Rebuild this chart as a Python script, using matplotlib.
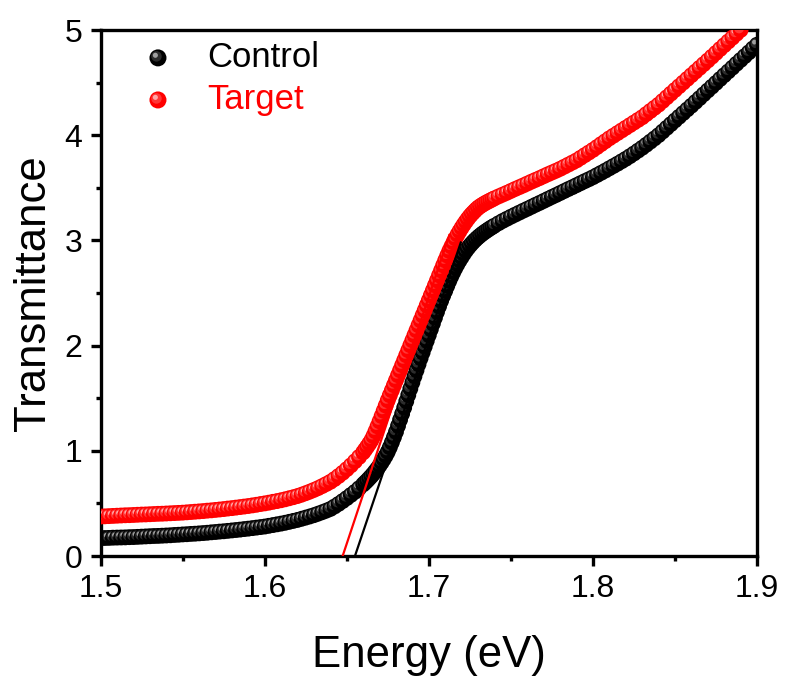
import matplotlib.pyplot as plt
import numpy as np
from matplotlib.ticker import MultipleLocator, FormatStrFormatter

plt.rcParams['font.family'] = ['Liberation Sans', 'DejaVu Sans']

# photon energy grid (eV): finer sampling across the absorption edge
energy = np.round(np.concatenate([
    1.50 + 0.0025 * np.arange(64),    # 1.5000 ... 1.6575
    1.66 + 0.00125 * np.arange(64),   # 1.6600 ... 1.73875
    1.74 + 0.0025 * np.arange(65),    # 1.7400 ... 1.9000
]), 5)

# Control (black)
control = [
    # 1.50 - 1.6575
    0.170, 0.171, 0.172, 0.174, 0.175, 0.176, 0.177, 0.179,
    0.180, 0.182, 0.184, 0.186, 0.188, 0.190, 0.191, 0.193,
    0.195, 0.197, 0.200, 0.202, 0.205, 0.207, 0.210, 0.212,
    0.215, 0.218, 0.221, 0.225, 0.228, 0.232, 0.235, 0.239,
    0.243, 0.247, 0.251, 0.256, 0.260, 0.265, 0.270, 0.275,
    0.280, 0.287, 0.294, 0.301, 0.308, 0.316, 0.325, 0.334,
    0.343, 0.354, 0.365, 0.376, 0.388, 0.402, 0.416, 0.431,
    0.447, 0.470, 0.495, 0.522, 0.550, 0.580, 0.610, 0.644,
    # 1.66 - 1.73875
    0.680, 0.699, 0.718, 0.739, 0.760, 0.783, 0.808, 0.833,
    0.860, 0.889, 0.920, 0.953, 0.990, 1.033, 1.080, 1.129,
    1.180, 1.237, 1.295, 1.352, 1.410, 1.470, 1.530, 1.590,
    1.650, 1.708, 1.765, 1.823, 1.880, 1.935, 1.990, 2.045,
    2.100, 2.155, 2.210, 2.265, 2.320, 2.373, 2.425, 2.474,
    2.520, 2.568, 2.615, 2.659, 2.700, 2.739, 2.775, 2.809,
    2.840, 2.871, 2.900, 2.926, 2.950, 2.972, 2.993, 3.012,
    3.030, 3.046, 3.062, 3.076, 3.090, 3.103, 3.116, 3.128,
    # 1.74 - 1.90
    3.140, 3.163, 3.185, 3.205, 3.225, 3.244, 3.263, 3.282,
    3.300, 3.319, 3.338, 3.356, 3.375, 3.394, 3.413, 3.431,
    3.450, 3.469, 3.488, 3.506, 3.525, 3.544, 3.563, 3.581,
    3.600, 3.621, 3.642, 3.663, 3.685, 3.707, 3.729, 3.752,
    3.775, 3.800, 3.826, 3.853, 3.880, 3.909, 3.939, 3.969,
    4.000, 4.035, 4.070, 4.105, 4.140, 4.175, 4.210, 4.245,
    4.280, 4.316, 4.352, 4.389, 4.425, 4.461, 4.497, 4.534,
    4.570, 4.606, 4.642, 4.679, 4.715, 4.751, 4.787, 4.824,
    4.860,
]

# Target (red), runs off the top of the frame after 1.89 eV
target = [
    # 1.50 - 1.6575
    0.375, 0.377, 0.379, 0.381, 0.383, 0.385, 0.387, 0.388,
    0.390, 0.392, 0.394, 0.395, 0.397, 0.399, 0.401, 0.402,
    0.404, 0.406, 0.408, 0.410, 0.412, 0.415, 0.418, 0.421,
    0.424, 0.427, 0.431, 0.434, 0.438, 0.442, 0.446, 0.451,
    0.455, 0.460, 0.465, 0.470, 0.475, 0.481, 0.487, 0.494,
    0.500, 0.507, 0.515, 0.522, 0.530, 0.539, 0.549, 0.559,
    0.570, 0.583, 0.597, 0.612, 0.628, 0.645, 0.664, 0.684,
    0.705, 0.731, 0.760, 0.791, 0.825, 0.861, 0.900, 0.941,
    # 1.66 - 1.73875
    0.985, 1.012, 1.040, 1.069, 1.100, 1.140, 1.185, 1.232,
    1.280, 1.330, 1.380, 1.430, 1.480, 1.528, 1.575, 1.623,
    1.670, 1.718, 1.765, 1.813, 1.860, 1.908, 1.955, 2.003,
    2.050, 2.098, 2.145, 2.193, 2.240, 2.288, 2.335, 2.383,
    2.430, 2.478, 2.525, 2.573, 2.620, 2.668, 2.715, 2.763,
    2.810, 2.856, 2.900, 2.941, 2.980, 3.018, 3.055, 3.088,
    3.120, 3.150, 3.178, 3.205, 3.230, 3.252, 3.272, 3.292,
    3.310, 3.324, 3.337, 3.349, 3.360, 3.370, 3.380, 3.390,
    # 1.74 - 1.89
    3.400, 3.418, 3.435, 3.452, 3.470, 3.488, 3.505, 3.522,
    3.540, 3.558, 3.575, 3.592, 3.610, 3.628, 3.645, 3.662,
    3.680, 3.700, 3.720, 3.740, 3.760, 3.785, 3.810, 3.835,
    3.860, 3.887, 3.915, 3.942, 3.970, 3.995, 4.020, 4.045,
    4.070, 4.095, 4.120, 4.145, 4.170, 4.200, 4.230, 4.260,
    4.290, 4.325, 4.360, 4.395, 4.430, 4.465, 4.500, 4.535,
    4.570, 4.605, 4.640, 4.675, 4.710, 4.746, 4.782, 4.819,
    4.855, 4.891, 4.927, 4.964, 5.000,
]

# linear fits of the absorption edge (x-intercept -> top end)
control_fit_e = [1.655, 1.7195]
control_fit_t = [0.0, 2.98]
target_fit_e = [1.6475, 1.7125]
target_fit_t = [0.0, 3.05]

W, H, DPI = 785, 680, 100
left, right, bottom, top = 100.6 / W, 757 / W, 124 / H, 650 / H

fig = plt.figure(figsize=(W / DPI, H / DPI), dpi=DPI)
ax = fig.add_axes([left, bottom, right - left, top - bottom])
xmin, xmax, ymin, ymax = 1.5, 1.9, 0, 5
ax.set_xlim(xmin, xmax)
ax.set_ylim(ymin, ymax)

# size of one pixel in data units, used to shift the highlight of each ball
px_x = (xmax - xmin) / ((right - left) * W)
px_y = (ymax - ymin) / ((top - bottom) * H)


def balls(ax, x, y, base, glow, spot, dx, dy, size=130, **kw):
    """Shaded 'sphere' markers: base disc, soft glow and a small highlight,
    drawn point by point so that later balls cover earlier ones."""
    x = np.asarray(x, dtype=float)
    y = np.asarray(y, dtype=float)
    n = len(x)
    xs = np.column_stack([x, x - 1.5 * dx, x - 2.6 * dx]).ravel()
    ys = np.column_stack([y, y + 1.5 * dy, y + 2.6 * dy]).ravel()
    sizes = np.tile([size, size * 0.38, size * 0.09], n)
    colors = [base, glow, spot] * n
    return ax.scatter(xs, ys, s=sizes, c=colors, linewidths=0, **kw)


BLACK = ('#000000', '#2c2c2c', '#a0a0a0')
RED = ('#ff0000', '#ff3636', '#ffa8a8')

balls(ax, energy, control, *BLACK, px_x, px_y, zorder=2)
balls(ax, energy[:len(target)], target, *RED, px_x, px_y, zorder=3)

ax.plot(target_fit_e, target_fit_t, color='red', lw=1.6, zorder=4)
ax.plot(control_fit_e, control_fit_t, color='black', lw=1.6, zorder=4)

# legend drawn by hand so the markers keep the ball look
ax_w, ax_h = (right - left) * W, (top - bottom) * H
for yy, name, cols in [(0.947, 'Control', BLACK), (0.867, 'Target', RED)]:
    balls(ax, [0.0874], [yy], *cols, 1 / ax_w, 1 / ax_h, size=150,
          transform=ax.transAxes, clip_on=False, zorder=5)
    ax.text(0.163, yy, name, color=cols[0], fontsize=25, va='center', ha='left',
            transform=ax.transAxes)

ax.xaxis.set_major_locator(MultipleLocator(0.1))
ax.xaxis.set_minor_locator(MultipleLocator(0.05))
ax.yaxis.set_major_locator(MultipleLocator(1))
ax.yaxis.set_minor_locator(MultipleLocator(0.5))
ax.xaxis.set_major_formatter(FormatStrFormatter('%.1f'))
ax.yaxis.set_major_formatter(FormatStrFormatter('%d'))

for sp in ax.spines.values():
    sp.set_linewidth(2.4)
ax.tick_params(which='both', direction='out', width=2.4, top=False, right=False,
               labelsize=23)
ax.tick_params(which='major', length=7, pad=6)
ax.tick_params(which='minor', length=3.5)

ax.set_xlabel('Energy (eV)', fontsize=31.5, labelpad=22)
ax.set_ylabel('Transmittance', fontsize=31.5, labelpad=8)

fig.savefig('out.png', dpi=DPI)
